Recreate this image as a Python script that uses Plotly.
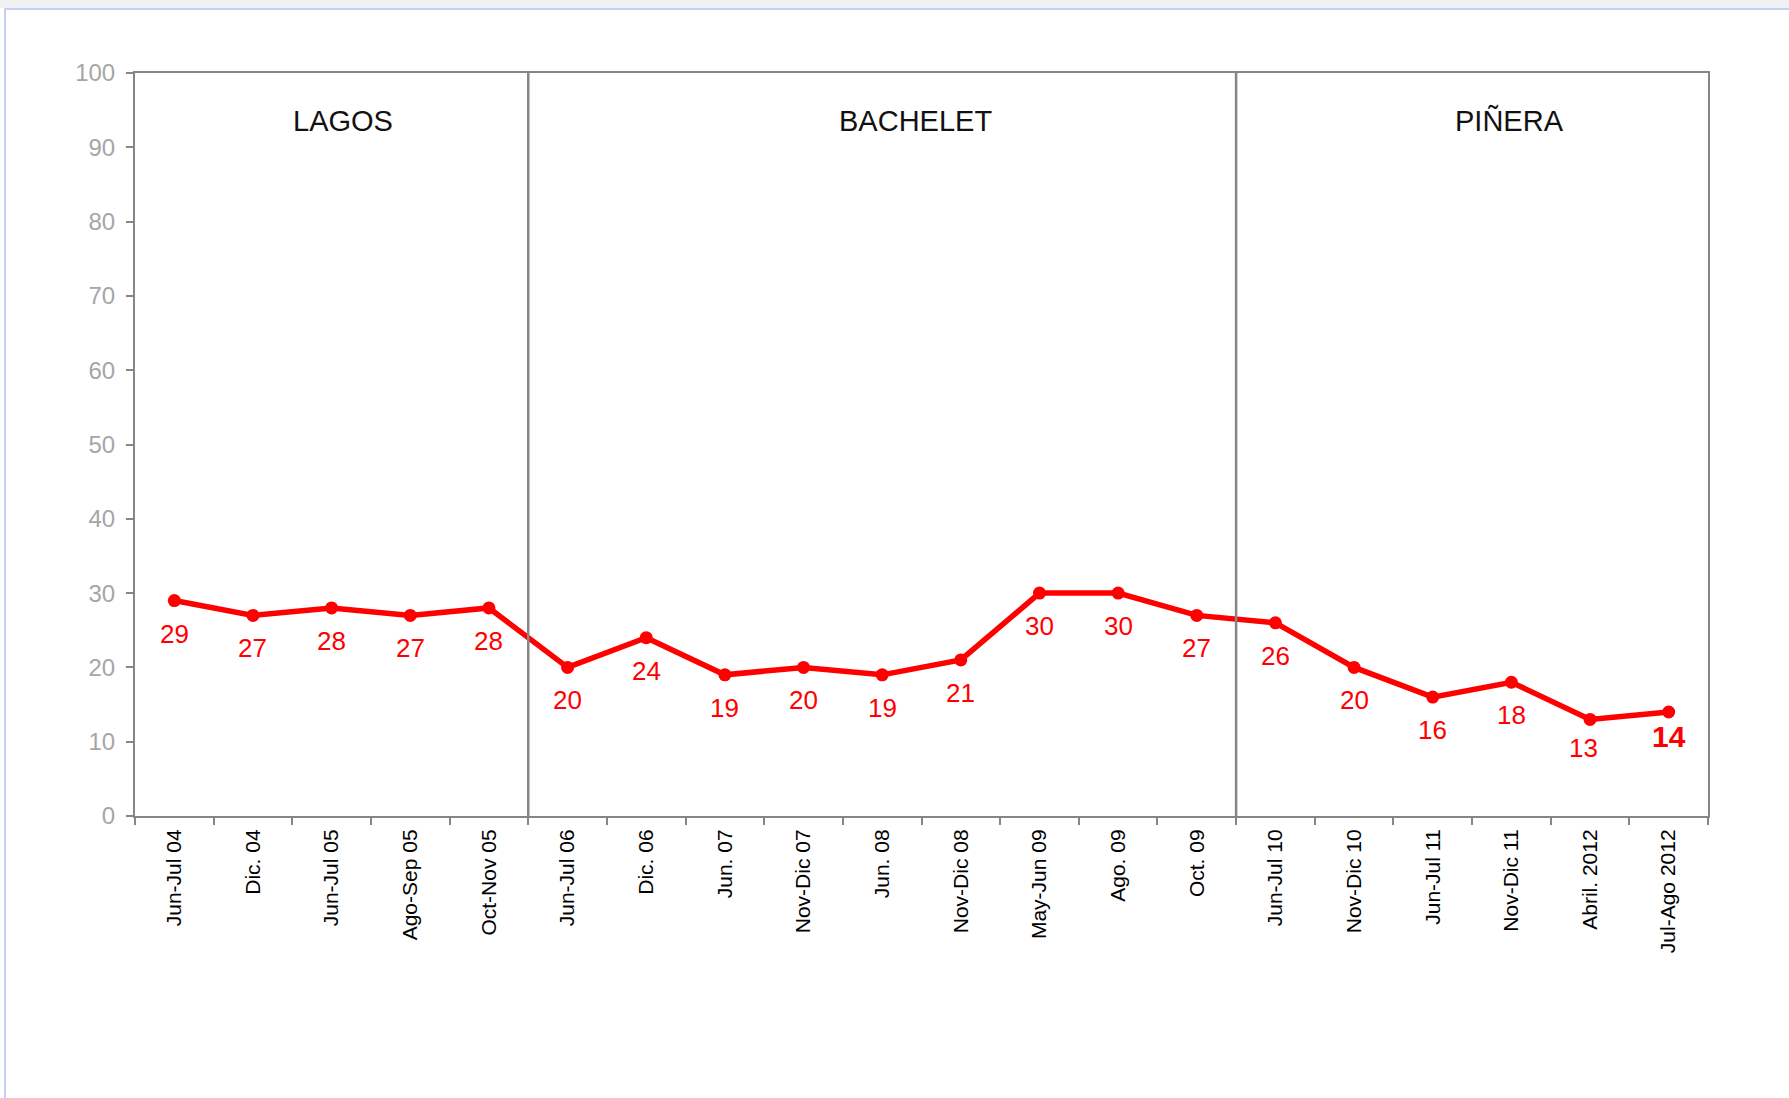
import plotly.graph_objects as go

categories = ["Jun-Jul 04", "Dic. 04", "Jun-Jul 05", "Ago-Sep 05", "Oct-Nov 05",
              "Jun-Jul 06", "Dic. 06", "Jun. 07", "Nov-Dic 07", "Jun. 08",
              "Nov-Dic 08", "May-Jun 09", "Ago. 09", "Oct. 09", "Jun-Jul 10",
              "Nov-Dic 10", "Jun-Jul 11", "Nov-Dic 11", "Abril. 2012", "Jul-Ago 2012"]
values = [29, 27, 28, 27, 28, 20, 24, 19, 20, 19, 21, 30, 30, 27, 26, 20, 16, 18, 13, 14]
periods = ["LAGOS", "BACHELET", "PIÑERA"]
y_ticks = list(range(0, 101, 10))

FONT = "Liberation Sans, Arial, sans-serif"
RED = "#FF0000"
GRAY = "#868686"

W, H = 1789, 1098
L, R, T, B = 135, 81, 73, 282

fig = go.Figure()
fig.add_trace(go.Scatter(
    x=categories, y=values, mode="lines+markers",
    line=dict(color=RED, width=5.5),
    marker=dict(color=RED, size=13),
    hoverinfo="x+y", showlegend=False,
))

# data labels
label_shift = {18: (-7, -29), 19: (0, -25)}
for i, (c, v) in enumerate(zip(categories, values)):
    xs, ys = label_shift.get(i, (0, -33))
    last = i == len(values) - 1
    fig.add_annotation(
        x=c, y=v, text=f"<b>{v}</b>" if last else str(v), showarrow=False,
        xshift=xs, yshift=ys,
        font=dict(family=FONT, size=30 if last else 26, color=RED),
    )

# period dividers and names
period_x = [2.14, 9.43, 16.98]
for xd in [4.5, 13.5]:
    fig.add_shape(type="line", xref="x", yref="y", x0=xd, x1=xd, y0=0, y1=100,
                  line=dict(color=GRAY, width=2.5))
for name, px in zip(periods, period_x):
    fig.add_annotation(x=px, y=93.6, text=name, showarrow=False,
                       font=dict(family=FONT, size=29, color="#111111"))

# page frame artifacts (top bar and border)
pw, ph = W - L - R, H - T - B
def px2paper_x(p):
    return (p - L) / pw
def px2paper_y(p):
    return (H - B - p) / ph
fig.add_shape(type="rect", xref="paper", yref="paper",
              x0=px2paper_x(0), x1=px2paper_x(W), y0=px2paper_y(0), y1=px2paper_y(8),
              fillcolor="#F1F1F1", line=dict(width=0), layer="below")
fig.add_shape(type="line", xref="paper", yref="paper",
              x0=px2paper_x(4), x1=px2paper_x(W), y0=px2paper_y(9), y1=px2paper_y(9),
              line=dict(color="#C3D0F5", width=2))
fig.add_shape(type="line", xref="paper", yref="paper",
              x0=px2paper_x(5), x1=px2paper_x(5), y0=px2paper_y(9), y1=px2paper_y(H),
              line=dict(color="#C3D0F5", width=2))

fig.update_layout(
    width=W, height=H, autosize=False,
    margin=dict(l=L, r=R, t=T, b=B, pad=0),
    paper_bgcolor="white", plot_bgcolor="white",
    font=dict(family=FONT),
    xaxis=dict(
        type="category", range=[-0.5, len(categories) - 0.5],
        tickson="boundaries", ticks="outside", ticklen=7, tickwidth=2, tickcolor=GRAY,
        showline=True, linecolor=GRAY, linewidth=2, mirror=True,
        showgrid=False, zeroline=False, ticklabelstandoff=3,
        tickangle=-90, tickfont=dict(family=FONT, size=21, color="black"),
    ),
    yaxis=dict(
        range=[0, 100], tickvals=y_ticks, ticks="outside", ticklen=7, tickwidth=2,
        tickcolor=GRAY, showline=True, linecolor=GRAY, linewidth=2, mirror=True,
        showgrid=False, zeroline=False, ticklabelstandoff=6,
        tickfont=dict(family=FONT, size=24, color="#A6A6A6"),
    ),
)

fig.write_html("out.html", config={"displayModeBar": False},
               post_script="document.body.style.margin='0';document.body.style.overflow='hidden';")
